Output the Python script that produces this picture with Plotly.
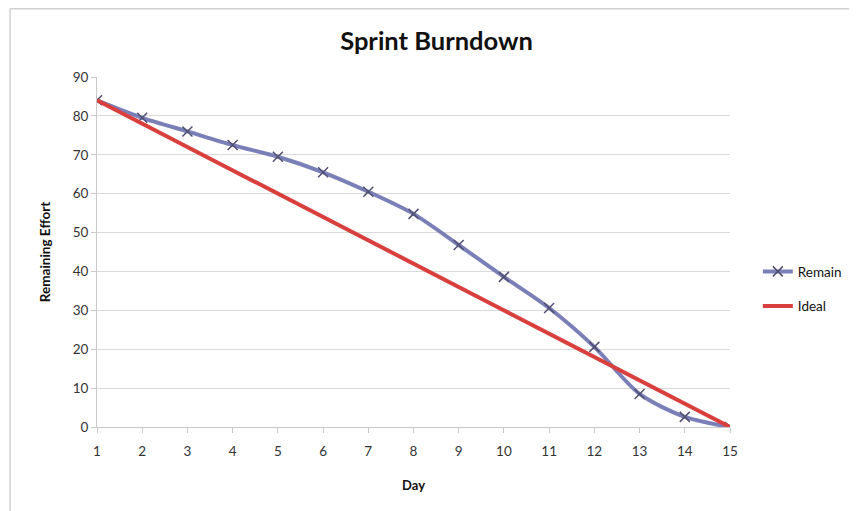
import plotly.graph_objects as go

days = list(range(1, 16))
remain = [84, 79.5, 76, 72.5, 69.5, 65.5, 60.5, 54.8, 46.8, 38.6, 30.6, 20.6, 8.5, 2.6, 0]
ideal = [84, 78, 72, 66, 60, 54, 48, 42, 36, 30, 24, 18, 12, 6, 0]
y_ticks = [0, 10, 20, 30, 40, 50, 60, 70, 80, 90]

fig = go.Figure()
fig.add_trace(go.Scatter(
    x=days, y=remain, name="Remain", mode="lines+markers", legendgroup="a",
    line=dict(color="#7b7fb8", width=4, shape="spline", smoothing=0.8),
    marker=dict(symbol="x-thin-open", size=10, color="#505070",
                line=dict(color="#505070", width=1.5)),
))
fig.add_trace(go.Scatter(
    x=days, y=ideal, name="Ideal", mode="lines", legendgroup="b",
    line=dict(color="#d93f3d", width=4),
))

font_family = "Lato, Open Sans, sans-serif"
fig.update_layout(
    width=857, height=511,
    margin=dict(l=89, r=135, t=69, b=92),
    paper_bgcolor="white", plot_bgcolor="white",
    font=dict(family=font_family, color="#333333", size=12),
    title=dict(text="<b>Sprint Burndown</b>", x=0.5, xanchor="center",
               y=0.935, yanchor="middle",
               font=dict(size=25.5, color="#111111", family=font_family)),
    xaxis=dict(
        range=[1, 15], tickmode="array", tickvals=days,
        showgrid=False, showline=True, linecolor="#c8c8c8", linewidth=1,
        ticks="outside", ticklen=5, tickcolor="#c8c8c8",
        ticklabelstandoff=7,
        tickfont=dict(size=13.5, color="#333333"),
        title=dict(text="<b>Day</b>", font=dict(size=13, color="#111111"), standoff=22),
        zeroline=False,
    ),
    yaxis=dict(
        range=[0, 90], tickmode="array", tickvals=y_ticks,
        showgrid=True, gridcolor="#d9d9d9", gridwidth=1,
        showline=True, linecolor="#c8c8c8", linewidth=1,
        ticks="outside", ticklen=5, tickcolor="#c8c8c8",
        tickfont=dict(size=13.5, color="#333333"),
        title=dict(text="<b>Remaining Effort</b>", font=dict(size=13.5, color="#111111"), standoff=18),
        zeroline=False,
    ),
    legend=dict(x=1.044, y=0.394, xanchor="left", yanchor="middle",
                font=dict(size=13.5, color="#111111"),
                tracegroupgap=14, itemwidth=30, bgcolor="rgba(0,0,0,0)"),
    shapes=[
        dict(type="line", xref="paper", yref="paper",
             x0=-0.1374, x1=1.25, y0=1.195, y1=1.195,
             line=dict(color="#cfcfcf", width=1.5)),
        dict(type="line", xref="paper", yref="paper",
             x0=-0.1374, x1=-0.1374, y0=1.195, y1=-0.3,
             line=dict(color="#cfcfcf", width=1.5)),
    ],
)

fig.write_html("out.html")
